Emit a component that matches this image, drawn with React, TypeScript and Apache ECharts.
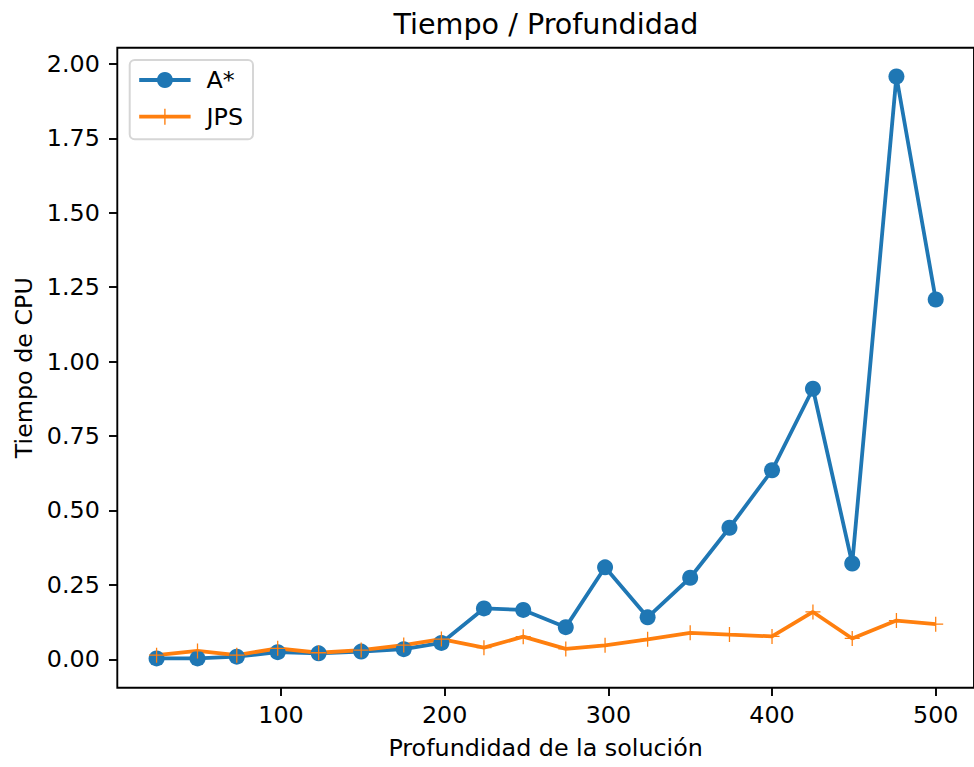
import React, { useEffect, useRef } from "react";
import * as echarts from "echarts";

const depth = [24, 49, 73, 98, 123, 149, 175, 198, 224, 248, 274, 298, 324, 350, 374, 400, 425, 449, 476, 500];
const aStar = [0.003, 0.003, 0.009, 0.024, 0.02, 0.026, 0.034, 0.055, 0.171, 0.166, 0.108, 0.309, 0.141, 0.274, 0.442, 0.635, 0.909, 0.322, 1.958, 1.209];
const jps = [0.014, 0.028, 0.014, 0.037, 0.022, 0.031, 0.048, 0.068, 0.039, 0.076, 0.035, 0.047, 0.067, 0.089, 0.083, 0.077, 0.159, 0.07, 0.13, 0.118];
const xTicks = [100, 200, 300, 400, 500];
const yTicks = [0, 0.25, 0.5, 0.75, 1.0, 1.25, 1.5, 1.75, 2.0];

const FONT = "DejaVu Sans";
const BLUE = "#1f77b4";
const ORANGE = "#ff7f0e";
const PLUS =
  "path://M-0.085,-1 L0.085,-1 L0.085,-0.085 L1,-0.085 L1,0.085 L0.085,0.085 L0.085,1 L-0.085,1 L-0.085,0.085 L-1,0.085 L-1,-0.085 L-0.085,-0.085 Z";

export default function App() {
  const ref = useRef<HTMLDivElement>(null);
  useEffect(() => {
    if (!ref.current) return;
    const chart = echarts.init(ref.current, null, { renderer: "svg" });
    const tick = {
      show: true,
      inside: false,
      length: 8.3,
      lineStyle: { color: "#000", width: 1.9 },
    };
    chart.setOption({
      animation: false,
      backgroundColor: "#fff",
      grid: {
        left: 117.3,
        top: 47.7,
        right: -1,
        bottom: 79.3,
        show: true,
        borderColor: "#000",
        borderWidth: 1.9,
        backgroundColor: "transparent",
      },
      graphic: [
        {
          type: "text",
          x: 546,
          y: 23.5,
          z: 10,
          style: {
            text: "Tiempo / Profundidad",
            fontFamily: FONT,
            fontSize: 28.6,
            fill: "#000",
            align: "center",
            verticalAlign: "middle",
          },
        },
        {
          type: "rect",
          z: 3,
          shape: { x: 129.7, y: 60, width: 123.3, height: 79.3, r: 5 },
          style: { fill: "rgba(255,255,255,0.8)", stroke: "#d6d6d6", lineWidth: 2 },
        },
      ],
      legend: {
        orient: "vertical",
        left: 137.3,
        top: 68,
        padding: 0,
        itemGap: 12.7,
        itemWidth: 51.4,
        itemHeight: 20,
        z: 4,
        lineStyle: { width: 3.8 },
        textStyle: {
          fontFamily: FONT,
          fontSize: 23.8,
          color: "#000",
          padding: [0, 0, 0, 11],
        },
        data: ["A*", "JPS"],
      },
      xAxis: {
        type: "value",
        min: 0,
        max: 523.4,
        name: "Profundidad de la solución",
        nameLocation: "middle",
        nameGap: 48,
        nameTextStyle: { fontFamily: FONT, fontSize: 23.8, color: "#000" },
        axisLine: { show: false, onZero: false },
        splitLine: { show: false },
        axisTick: { ...tick, customValues: xTicks },
        axisLabel: {
          customValues: xTicks,
          margin: 14.8,
          fontFamily: FONT,
          fontSize: 23.8,
          color: "#000",
        },
      },
      yAxis: {
        type: "value",
        min: -0.0954,
        max: 2.0548,
        name: "Tiempo de CPU",
        nameLocation: "middle",
        nameGap: 81,
        nameTextStyle: { fontFamily: FONT, fontSize: 23.8, color: "#000" },
        axisLine: { show: false, onZero: false },
        splitLine: { show: false },
        axisTick: { ...tick, customValues: yTicks },
        axisLabel: {
          customValues: yTicks,
          margin: 17.5,
          fontFamily: FONT,
          fontSize: 23.8,
          color: "#000",
          formatter: (v: number) => v.toFixed(2),
        },
      },
      series: [
        {
          name: "A*",
          type: "line",
          data: depth.map((d, i) => [d, aStar[i]]),
          symbol: "circle",
          symbolSize: 16,
          showAllSymbol: true,
          lineStyle: { color: BLUE, width: 3.8 },
          itemStyle: { color: BLUE, borderWidth: 0 },
          emphasis: { disabled: true },
          z: 2,
        },
        {
          name: "JPS",
          type: "line",
          data: depth.map((d, i) => [d, jps[i]]),
          symbol: PLUS,
          symbolSize: 15,
          showAllSymbol: true,
          lineStyle: { color: ORANGE, width: 3.8 },
          itemStyle: { color: ORANGE, borderWidth: 0 },
          emphasis: { disabled: true },
          z: 2,
        },
      ],
    });
    return () => chart.dispose();
  }, []);
  return (
    <div
      ref={ref}
      style={{ position: "fixed", left: 0, top: 0, width: 974, height: 767 }}
    />
  );
}
